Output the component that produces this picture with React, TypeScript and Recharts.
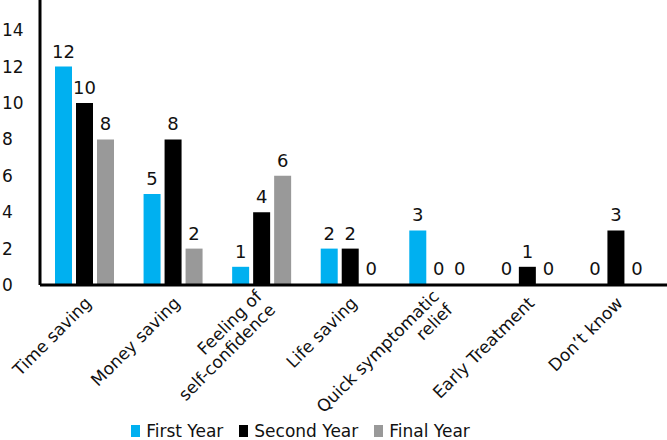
import { BarChart, Bar, XAxis, YAxis, LabelList, Legend, Cell } from "recharts";

const categories = [
  "Time saving",
  "Money saving",
  "Feeling of\nself-confidence",
  "Life saving",
  "Quick symptomatic\nrelief",
  "Early Treatment",
  "Don’t know",
];
const firstYear = [12, 5, 1, 2, 3, 0, 0];
const secondYear = [10, 8, 4, 2, 0, 1, 3];
const finalYear = [8, 2, 6, 0, 0, 0, 0];
const yTicks = [0, 2, 4, 6, 8, 10, 12, 14];

const series = [
  { key: "first", name: "First Year", color: "#00B0F0", values: firstYear },
  { key: "second", name: "Second Year", color: "#000000", values: secondYear },
  { key: "final", name: "Final Year", color: "#999999", values: finalYear },
];

const data = categories.map((name, i) => ({
  name,
  first: firstYear[i],
  second: secondYear[i],
  final: finalYear[i],
}));

const font = "'DejaVu Sans', sans-serif";

const YTick = (props: any) => (
  <text x={2} y={props.y} dy="0.35em" fontSize={17} fill="#111" fontFamily={font}>
    {props.payload.value}
  </text>
);

const XTick = (props: any) => {
  const lines = String(props.payload.value).split("\n");
  const n = lines.length;
  return (
    <g transform={`translate(${props.x + 4},${props.y + 15}) rotate(-45)`}>
      {lines.map((l, i) => (
        <text
          key={i}
          x={0}
          y={(i - (n - 1) / 2) * 19}
          dy="0.35em"
          textAnchor="end"
          fontSize={17}
          fill="#111"
          fontFamily={font}
        >
          {l}
        </text>
      ))}
    </g>
  );
};

// value label, drawn also for zero bars
const ValueLabel = (props: any) => {
  const { x, y, width, value } = props;
  if (value === undefined || value === null) return null;
  return (
    <text
      x={Number(x) + Number(width) / 2}
      y={Number(y) - 9}
      textAnchor="middle"
      fontSize={18}
      fill="#111"
      fontFamily={font}
    >
      {value}
    </text>
  );
};

const renderLegend = () => (
  <div
    style={{
      display: "flex",
      justifyContent: "center",
      alignItems: "center",
      paddingRight: 50,
      paddingTop: 6,
      fontSize: 17,
      fontFamily: font,
      color: "#111",
      height: 19,
    }}
  >
    {series.map((s) => (
      <span key={s.key} style={{ display: "flex", alignItems: "center", marginRight: 16 }}>
        <span style={{ width: 9, height: 12, background: s.color, marginRight: 6 }} />
        {s.name}
      </span>
    ))}
  </div>
);

export default function App() {
  return (
    <div style={{ position: "absolute", left: 0, top: 0, width: 667, height: 440, background: "#fff" }}>
      <BarChart
        width={667}
        height={440}
        data={data}
        margin={{ top: 0, right: 0, bottom: 0, left: 0 }}
        barGap={4}
      >
        <YAxis
          width={40}
          domain={[0, 15.66]}
          ticks={yTicks}
          allowDataOverflow
          tickLine={false}
          axisLine={{ stroke: "#000", strokeWidth: 3 }}
          tick={<YTick />}
        />
        <XAxis
          dataKey="name"
          height={130}
          interval={0}
          tickLine={false}
          tickSize={0}
          tickMargin={0}
          padding={{ left: 0, right: 7 }}
          axisLine={{ stroke: "#000", strokeWidth: 3 }}
          tick={<XTick />}
        />
        <Legend verticalAlign="bottom" height={25} content={renderLegend} />
        {series.map((s) => (
          <Bar
            key={s.key}
            dataKey={s.key}
            name={s.name}
            fill={s.color}
            barSize={17}
            minPointSize={1}
            isAnimationActive={false}
          >
            {s.values.map((v, i) => (
              <Cell key={i} fill={v === 0 ? "none" : s.color} />
            ))}
            <LabelList dataKey={s.key} content={<ValueLabel />} />
          </Bar>
        ))}
      </BarChart>
    </div>
  );
}
